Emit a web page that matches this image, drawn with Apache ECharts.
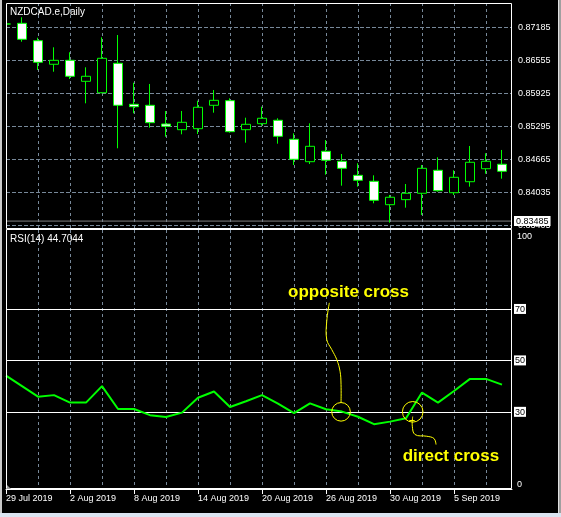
<!DOCTYPE html>
<html>
<head>
<meta charset="utf-8">
<title>NZDCAD.e,Daily</title>
<script src="https://cdn.jsdelivr.net/npm/echarts@6/dist/echarts.min.js"></script>
<style>
html, body { margin: 0; padding: 0; background: #000; }
#chart { width: 561px; height: 517px; }
</style>
</head>
<body>
<div id="chart"></div>
<script>
// daily bars, 29 Jul 2019 .. 10 Sep 2019
const dates = ['29 Jul 2019', '30 Jul 2019', '31 Jul 2019', '1 Aug 2019', '2 Aug 2019',
  '5 Aug 2019', '6 Aug 2019', '7 Aug 2019', '8 Aug 2019', '9 Aug 2019',
  '12 Aug 2019', '13 Aug 2019', '14 Aug 2019', '15 Aug 2019', '16 Aug 2019',
  '19 Aug 2019', '20 Aug 2019', '21 Aug 2019', '22 Aug 2019', '23 Aug 2019',
  '26 Aug 2019', '27 Aug 2019', '28 Aug 2019', '29 Aug 2019', '30 Aug 2019',
  '2 Sep 2019', '3 Sep 2019', '4 Sep 2019', '5 Sep 2019', '6 Sep 2019',
  '9 Sep 2019', '10 Sep 2019'];

const open = [0.87248, 0.87261, 0.86929, 0.86479, 0.86555, 0.86154, 0.85936, 0.86498,
  0.85715, 0.85696, 0.85339, 0.85230, 0.85249, 0.85696, 0.85784, 0.85230,
  0.85345, 0.85410, 0.85047, 0.84619, 0.84818, 0.84627, 0.84359, 0.84245,
  0.83798, 0.83894, 0.84016, 0.84455, 0.84027, 0.84237, 0.84485, 0.84570];
const close = [0.87248, 0.86956, 0.86517, 0.86555, 0.86250, 0.86250, 0.86593, 0.85696,
  0.85669, 0.85364, 0.85295, 0.85371, 0.85658, 0.85791, 0.85192, 0.85333,
  0.85448, 0.85104, 0.84665, 0.84913, 0.84646, 0.84493, 0.84264, 0.83882,
  0.83940, 0.84016, 0.84493, 0.84065, 0.84321, 0.84608, 0.84627, 0.84436];
const low = [0.87051, 0.86910, 0.86370, 0.86337, 0.86198, 0.85734, 0.85925, 0.84875,
  0.85543, 0.85268, 0.85096, 0.85142, 0.85148, 0.85555, 0.85173, 0.84982,
  0.85307, 0.84963, 0.84556, 0.84575, 0.84371, 0.84161, 0.84142, 0.83825,
  0.83455, 0.83741, 0.83602, 0.84046, 0.83983, 0.84142, 0.84390, 0.84295];
const high = [0.87420, 0.87376, 0.86986, 0.86803, 0.86708, 0.86421, 0.86994, 0.87038,
  0.86127, 0.86103, 0.85587, 0.85587, 0.85784, 0.85988, 0.85829, 0.85459,
  0.85669, 0.85448, 0.85161, 0.85352, 0.85033, 0.84766, 0.84589, 0.84359,
  0.83983, 0.84193, 0.84556, 0.84703, 0.84455, 0.84919, 0.84780, 0.84843];

const rsi = [44.1, 40.0, 35.9, 36.5, 33.6, 33.6, 40.0, 31.1, 31.1, 28.7, 28.0, 29.7,
  35.5, 37.9, 31.9, 34.1, 36.5, 33.2, 29.5, 33.3, 31.0, 30.1, 28.1, 25.2,
  26.2, 27.5, 37.5, 33.6, 38.1, 42.8, 42.8, 40.6];

const priceTicks = [0.87185, 0.86555, 0.85925, 0.85295, 0.84665, 0.84035, 0.83405];
const bidPrice = 0.83485;
const rsiLevels = [70, 50, 30];
const rsiLabels = [100, 70, 50, 30, 0];
const dateTicks = [0, 4, 8, 12, 16, 20, 24, 28];
const gridCols = [2, 4, 6, 8, 10, 12, 14, 16, 18, 20, 22, 24, 26, 28, 30];
const xMax = 31.625; // bars visible across the pane width

// hand drawn notes, anchored on the RSI pane (bar index, rsi value)
const noteOpposite = { text: 'opposite cross', at: [20.94, 30] };
const noteDirect = { text: 'direct cross', at: [25.42, 30] };

const FONT = 'Liberation Sans';
const GRID = '#778899';
const LIME = '#00ff00';
const NOTE = '#ffff00';

const candles = dates.map((d, i) => [i, open[i], close[i], low[i], high[i]]);
const rsiData = rsi.map((v, i) => [i, v]);

const chart = echarts.init(document.getElementById('chart'));

const dashed = { color: GRID, type: 'dashed', width: 1 };
const level = { color: '#fff', type: 'solid', width: 1 };
const hidden = { axisLine: { show: false }, axisTick: { show: false }, axisLabel: { show: false }, splitLine: { show: false } };

const option = {
  backgroundColor: '#000',
  animation: false,
  grid: [
    { left: 6, right: 49, top: 3, height: 226, show: false, outerBoundsMode: 'none' },
    { left: 6, right: 49, top: 230, height: 259, show: false, outerBoundsMode: 'none' }
  ],
  xAxis: [
    Object.assign({ gridIndex: 0, type: 'value', min: 0, max: xMax }, hidden),
    {
      gridIndex: 1, type: 'value', position: 'bottom', min: 0, max: xMax,
      axisLine: { show: true, lineStyle: { color: '#fff', width: 1 } },
      axisTick: { show: true, customValues: dateTicks, length: 5, lineStyle: { color: '#fff', width: 1 } },
      axisLabel: {
        customValues: dateTicks, formatter: v => dates[Math.round(v)] || '',
        align: 'left', color: '#fff', fontFamily: FONT, fontSize: 9, margin: 5
      },
      splitLine: { show: false }
    }
  ],
  yAxis: [
    {
      gridIndex: 0, type: 'value', position: 'right', min: 0.83334, max: 0.87649,
      axisLine: { show: false },
      axisTick: { show: false, customValues: priceTicks },
      axisLabel: {
        customValues: priceTicks, formatter: v => Number(v).toFixed(5),
        color: '#fff', fontFamily: FONT, fontSize: 9, margin: 6
      },
      splitLine: { show: true, lineStyle: dashed }
    },
    {
      gridIndex: 1, type: 'value', position: 'right', min: 0, max: 100.7,
      axisLine: { show: false },
      axisTick: { show: false, customValues: rsiLabels },
      axisLabel: {
        customValues: rsiLabels, margin: 2, fontFamily: FONT, fontSize: 9,
        formatter: v => v === 100 ? '{hi|100}' : (v === 0 ? '{lo|0}' : '{box|' + v + '}'),
        rich: {
          hi: { color: '#fff', fontFamily: FONT, fontSize: 9, padding: [9, 0, 0, 3] },
          lo: { color: '#fff', fontFamily: FONT, fontSize: 9, padding: [0, 0, 9, 3] },
          box: { color: '#000', backgroundColor: '#fff', fontFamily: FONT, fontSize: 9, padding: [1, 1, 0, 1] }
        }
      },
      splitLine: { show: false }
    }
  ],
  series: [
    {
      // bid line of the price pane
      type: 'line',
      xAxisIndex: 0, yAxisIndex: 0,
      data: [[0, bidPrice], [xMax, bidPrice]],
      symbol: 'none',
      z: 4,
      silent: true,
      lineStyle: { color: '#808080', width: 1 },
      endLabel: {
        show: true, distance: 2, formatter: bidPrice.toFixed(5),
        color: '#000', backgroundColor: '#fff', fontFamily: FONT, fontSize: 9, padding: [1, 2, 0, 2]
      }
    },
    {
      type: 'candlestick',
      xAxisIndex: 0, yAxisIndex: 0,
      data: candles,
      barWidth: 9,
      clip: true,
      z: 6,
      itemStyle: { color: '#000', color0: '#fff', borderColor: LIME, borderColor0: LIME, borderWidth: 1 }
    },
    {
      type: 'line',
      xAxisIndex: 1, yAxisIndex: 1,
      data: rsiData,
      symbol: 'none',
      z: 6,
      lineStyle: { color: LIME, width: 2 },
      markLine: {
        silent: true, symbol: 'none', animation: false,
        lineStyle: level, label: { show: false },
        data: rsiLevels.map(v => ({ yAxis: v }))
      }
    }
  ]
};

chart.setOption(option);

// vertical grid: bar positions converted through both panes' axes,
// drawn as 1px dash blocks (3 on, 3 off)
const vDashes = [];
function dashColumn(x, yTop, yBottom) {
  for (let y = Math.ceil(yTop); y < yBottom; y += 6) {
    vDashes.push({
      type: 'rect', z: 2, silent: true,
      shape: { x: x, y: y, width: 1, height: Math.min(3, yBottom - y) },
      style: { fill: GRID }
    });
  }
}
gridCols.forEach(k => {
  const a = chart.convertToPixel({ seriesIndex: 1 }, [k, 0.87649]);
  const b = chart.convertToPixel({ seriesIndex: 1 }, [k, 0.83334]);
  const c = chart.convertToPixel({ seriesIndex: 2 }, [k, 100.7]);
  const d = chart.convertToPixel({ seriesIndex: 2 }, [k, 0]);
  const x = Math.round(c[0]);
  dashColumn(x, a[1], b[1]);
  dashColumn(x, c[1], d[1]);
});

// pane frames, captions, window edge and the hand drawn notes
const p1 = chart.convertToPixel({ seriesIndex: 2 }, noteOpposite.at);
const p2 = chart.convertToPixel({ seriesIndex: 2 }, noteDirect.at);
const rel = (p, pts) => pts.map(d => [p[0] + d[0], p[1] + d[1]]);
const frame = { stroke: '#fff', lineWidth: 1, fill: 'none' };

chart.setOption({
  graphic: vDashes.concat([
    { type: 'rect', z: 10, shape: { x: 0, y: 3, width: 6, height: 226 }, style: { fill: '#000' } },
    { type: 'rect', z: 11, shape: { x: 6.5, y: 3.5, width: 505, height: 225 }, style: frame },
    { type: 'rect', z: 11, shape: { x: 6.5, y: 229.5, width: 505, height: 259 }, style: frame },
    { type: 'text', x: 10, y: 12, z: 13, style: { text: 'NZDCAD.e,Daily', fill: '#fff', font: '10px ' + FONT, verticalAlign: 'middle' } },
    { type: 'text', x: 10, y: 239, z: 13, style: { text: 'RSI(14) 44.7044', fill: '#fff', font: '10px ' + FONT, verticalAlign: 'middle' } },
    { type: 'polygon', z: 11, shape: { points: [[7, 485], [7, 489], [11, 489]] }, style: { fill: '#a0a0a0' } },
    { type: 'rect', z: 12, shape: { x: 0, y: 0, width: 2, height: 517 }, style: { fill: '#c8c8c8' } },
    { type: 'rect', z: 12, shape: { x: 558, y: 0, width: 1, height: 517 }, style: { fill: '#e0e0e0' } },
    { type: 'rect', z: 12, shape: { x: 559, y: 0, width: 2, height: 517 }, style: { fill: '#a0a0a0' } },
    { type: 'rect', z: 12, shape: { x: 0, y: 513, width: 561, height: 4 }, style: { fill: '#dbe5f1' } },
    // opposite cross
    {
      type: 'text', x: p1[0] - 53, y: p1[1] - 120, z: 13,
      style: { text: noteOpposite.text, fill: NOTE, font: 'bold 17px ' + FONT, verticalAlign: 'middle' }
    },
    {
      type: 'polyline', z: 13,
      shape: { points: rel(p1, [[-11.7, -109], [-14.3, -90.6], [-14.3, -72.3], [-9.3, -62.3], [-4.3, -52.3], [-1, -40.6], [0, -27.3], [0, -9.3]]), smooth: 0.4 },
      style: { stroke: NOTE, lineWidth: 1, fill: 'none' }
    },
    { type: 'circle', z: 13, shape: { cx: p1[0], cy: p1[1], r: 9.3 }, style: { stroke: NOTE, lineWidth: 1, fill: 'none' } },
    // direct cross
    { type: 'circle', z: 13, shape: { cx: p2[0], cy: p2[1], r: 10.3 }, style: { stroke: NOTE, lineWidth: 1, fill: 'none' } },
    {
      type: 'polyline', z: 13,
      shape: { points: rel(p2, [[0, 4.7], [-0.4, 14.4], [2.3, 22.7], [14, 24.4], [21.3, 26.7], [23.3, 32.7]]), smooth: 0.4 },
      style: { stroke: NOTE, lineWidth: 1, fill: 'none' }
    },
    {
      type: 'line', z: 13,
      shape: { x1: p2[0] - 3.4, y1: p2[1] + 8.7, x2: p2[0] + 2, y2: p2[1] + 8.7 },
      style: { stroke: NOTE, lineWidth: 1 }
    },
    {
      type: 'text', x: p2[0] - 10, y: p2[1] + 44.5, z: 13,
      style: { text: noteDirect.text, fill: NOTE, font: 'bold 17px ' + FONT, verticalAlign: 'middle' }
    }
  ])
});
</script>
</body>
</html>
